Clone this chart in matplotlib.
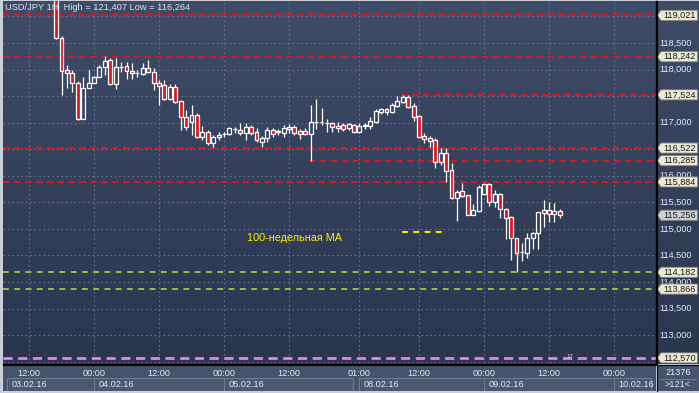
import matplotlib
matplotlib.use("Agg")
import matplotlib.pyplot as plt
import numpy as np
from matplotlib.patches import Rectangle, Polygon
from matplotlib.lines import Line2D

plt.rcParams['font.family'] = ['Liberation Sans', 'DejaVu Sans']

# ---------------- data ----------------
title_text = "USD/JPY 1H  High = 121,407 Low = 116,264"
ma_label = "100-недельная MA"
marker_label = "17"
marker_pos = (99.9, 112.60)

bar_index = list(range(5, 99))  # hourly bar positions (weekend compressed)

opens = [119.600, 118.589, 117.992, 117.930, 117.741, 117.069, 117.658, 117.753, 117.855, 118.043,
         118.180, 117.728, 118.039, 118.067, 117.973, 117.930, 117.917, 118.024, 117.954, 117.741,
         117.700, 117.446, 117.666, 117.408, 117.112, 117.006, 117.144, 116.736, 116.830, 116.611,
         116.725, 116.787, 116.787, 116.872, 116.862, 116.811, 116.924, 116.830, 116.642, 116.706,
         116.862, 116.834, 116.811, 116.875, 116.913, 116.849, 116.849, 116.781, 117.003, 117.009,
         116.988, 116.988, 116.894, 116.956, 116.894, 116.956, 116.819, 116.943, 116.943, 117.018,
         117.207, 117.257, 117.207, 117.320, 117.395, 117.483, 117.320, 117.125, 116.749, 116.706,
         116.674, 116.259, 116.434, 116.109, 115.576, 115.713, 115.638, 115.267, 115.337, 115.651,
         115.845, 115.512, 115.657, 115.369, 115.223, 114.823, 114.559, 114.551, 114.823, 114.917,
         115.292, 115.355, 115.274, 115.336]
highs = [119.700, 118.632, 118.086, 118.001, 117.785, 117.866, 117.992, 117.888, 118.077, 118.256,
         118.212, 118.223, 118.137, 118.133, 118.129, 117.992, 118.129, 118.180, 118.024, 117.804,
         117.804, 117.728, 117.728, 117.427, 117.239, 117.333, 117.176, 116.937, 116.862, 116.768,
         116.830, 116.830, 116.924, 116.924, 116.988, 116.988, 116.956, 116.894, 116.749, 116.924,
         116.894, 116.875, 116.956, 116.969, 116.956, 116.875, 116.894, 117.333, 117.446, 117.276,
         117.069, 117.013, 117.007, 116.988, 117.000, 116.975, 116.988, 116.988, 117.112, 117.257,
         117.282, 117.282, 117.365, 117.502, 117.524, 117.521, 117.365, 117.144, 116.800, 116.749,
         116.706, 116.517, 116.517, 116.246, 115.732, 115.858, 115.645, 115.468, 115.826, 115.864,
         115.858, 115.732, 115.670, 115.388, 115.242, 114.834, 114.740, 114.928, 114.947, 115.323,
         115.544, 115.512, 115.481, 115.374]
lows = [118.580, 117.521, 117.653, 117.577, 117.050, 117.060, 117.653, 117.747, 117.851, 117.898,
        117.709, 117.634, 117.960, 117.822, 117.822, 117.854, 117.898, 117.930, 117.615, 117.333,
        117.427, 117.436, 117.370, 116.862, 116.862, 116.768, 116.706, 116.674, 116.579, 116.547,
        116.674, 116.736, 116.768, 116.811, 116.768, 116.674, 116.768, 116.642, 116.547, 116.642,
        116.736, 116.768, 116.736, 116.811, 116.768, 116.687, 116.768, 116.285, 116.881, 116.956,
        116.830, 116.830, 116.830, 116.849, 116.862, 116.800, 116.800, 116.875, 116.881, 116.988,
        117.163, 117.150, 117.176, 117.301, 117.365, 117.271, 117.037, 116.706, 116.608, 116.547,
        116.146, 116.203, 115.888, 115.557, 115.154, 115.606, 115.261, 115.261, 115.323, 115.638,
        115.431, 115.418, 115.210, 114.815, 114.414, 114.182, 114.395, 114.457, 114.626, 114.626,
        115.041, 115.135, 115.135, 115.210]
closes = [118.594, 117.979, 117.930, 117.741, 117.069, 117.658, 117.741, 117.855, 118.043, 118.167,
          117.728, 118.043, 118.052, 117.964, 117.935, 117.941, 118.024, 117.945, 117.741, 117.696,
          117.446, 117.666, 117.395, 117.107, 116.924, 117.144, 116.736, 116.830, 116.611, 116.736,
          116.768, 116.793, 116.894, 116.881, 116.811, 116.924, 116.811, 116.674, 116.706, 116.862,
          116.787, 116.828, 116.894, 116.913, 116.800, 116.787, 116.787, 117.007, 117.009, 117.003,
          116.998, 116.909, 116.943, 116.881, 116.975, 116.819, 116.937, 116.950, 117.031, 117.220,
          117.257, 117.207, 117.333, 117.408, 117.478, 117.301, 117.112, 116.736, 116.692, 116.655,
          116.265, 116.429, 116.095, 115.576, 115.700, 115.625, 115.267, 115.356, 115.789, 115.845,
          115.512, 115.657, 115.365, 115.210, 114.819, 114.551, 114.570, 114.823, 114.922, 115.312,
          115.355, 115.274, 115.336, 115.256]

# horizontal levels: (price, start bar index or None for full width, kind)
level_prices = [119.021, 118.242, 117.524, 116.522, 116.285, 115.884, 114.182, 113.866, 112.570]
level_starts = [None, None, 68.6, None, 51.7, None, None, None, None]
level_kinds = ['red', 'red', 'red', 'red', 'red', 'red', 'green', 'green', 'pink']
last_price = 115.256
ma_price = 114.946
ma_span = (68.8, 76.8)

tick_prices = [118.5, 118.0, 117.0, 116.0, 115.5, 115.0, 114.5, 114.0, 113.5, 113.0]
grid_prices = [119.0, 118.5, 118.0, 117.5, 117.0, 116.5, 116.0, 115.5, 115.0, 114.5, 114.0, 113.5, 113.0, 112.5]

time_pos = [0, 12, 24, 36, 48, 61, 72, 84, 96, 108]
time_labels = ["12:00", "00:00", "12:00", "00:00", "12:00", "01:00", "12:00", "00:00", "12:00", "00:00"]
date_labels = ["03.02.16", "04.02.16", "05.02.16", "08.02.16", "09.02.16", "10.02.16"]
date_starts = [-4.05, 12, 36, 61, 84, 108]
date_ends = [12, 36, 59.9, 84, 108, 114.8]
counter_top = "21376"
counter_bottom = ">121<"

# ---------------- layout ----------------
W, H = 699, 393
XLIM = (-4.80, 115.75)
YLIM = (112.455, 119.291)

fig = plt.figure(figsize=(W / 100, H / 100), dpi=100)
fig.patch.set_facecolor('#C9CED8')


def rect(x0, y0, x1, y1):
    return [x0 / W, 1 - y1 / H, (x1 - x0) / W, (y1 - y0) / H]


# gradient background for plot + price scale
bg = fig.add_axes(rect(3, 1, 699, 364))
grad = np.linspace(0, 1, 256)[:, None]
top_c = np.array([0x3F, 0x4C, 0x68]) / 255
bot_c = np.array([0x2A, 0x35, 0x4E]) / 255
img = top_c[None, None, :] * (1 - grad[:, :, None]) + bot_c[None, None, :] * grad[:, :, None]
bg.imshow(img, aspect='auto', extent=(0, 1, 0, 1))
bg.set_axis_off()

ax = fig.add_axes(rect(3, 1, 656, 364))
ax.set_facecolor('none')
ax.set_xlim(*XLIM)
ax.set_ylim(*YLIM)
for s in ['left', 'top']:
    ax.spines[s].set_visible(False)
for s in ['right', 'bottom']:
    ax.spines[s].set_color('black')
    ax.spines[s].set_linewidth(1.0)
ax.set_xticks([])
ax.set_yticks([])

grid_col = '#66728D'
for gp in grid_prices:
    ax.axhline(gp, color=grid_col, lw=0.8, linestyle=(0, (1.5, 2.5)), zorder=1)
for tp in time_pos:
    ax.axvline(tp, color=grid_col, lw=0.8, linestyle=(0, (1.5, 2.5)), zorder=1)

# levels
style = {
    'red': dict(color='#E3141C', lw=1.4, linestyle=(0, (3.3, 2.3))),
    'green': dict(color='#8CC63E', lw=1.4, linestyle=(0, (3.0, 2.8))),
    'pink': dict(color='#F07FE3', lw=2.0, linestyle=(0, (3.3, 2.0))),
}
for p, st, k in zip(level_prices, level_starts, level_kinds):
    x0 = XLIM[0] if st is None else st
    ax.plot([x0, XLIM[1]], [p, p], zorder=2, solid_capstyle='butt', dash_capstyle='butt', **style[k])

ax.plot(list(ma_span), [ma_price, ma_price], color='#FFF200', lw=1.4,
        linestyle=(0, (3.0, 2.8)), zorder=2)
ax.text(40.3, ma_price - 0.115, ma_label, color='#FFF200', fontsize=7.8,
        ha='left', va='center', zorder=3)

# small marker on the bottom level
ax.text(marker_pos[0], marker_pos[1], marker_label, color='#E8E0F0', fontsize=4.5,
        ha='center', va='center', zorder=3)

# candles
bw = 0.72
for xi, o, h, l, c in zip(bar_index, opens, highs, lows, closes):
    top = max(o, c)
    bot = min(o, c)
    ax.plot([xi, xi], [top, h], color='white', lw=0.9, zorder=4, solid_capstyle='butt')
    ax.plot([xi, xi], [l, bot], color='white', lw=0.9, zorder=4, solid_capstyle='butt')
    face = '#E3141C' if c < o else 'none'
    ax.add_patch(Rectangle((xi - bw / 2, bot), bw, max(top - bot, 0.0005),
                           facecolor=face, edgecolor='white', lw=0.9, zorder=5))

# title
ax.text(0.003, 0.995, title_text, transform=ax.transAxes, color='#DDE3EE',
        fontsize=6.7, ha='left', va='top', zorder=6)

# ---------------- price scale ----------------
rp = fig.add_axes(rect(657, 1, 699, 364))
rp.set_facecolor('none')
rp.set_xlim(0, 42)
rp.set_ylim(*YLIM)
rp.set_axis_off()
for tp in tick_prices:
    rp.text(2.5, tp, f"{tp:.3f}".replace(".", ","),
            color='#E6ECF5', fontsize=6.6, ha='left', va='center', zorder=2, clip_on=True)

tag_h = 0.095


def tag(price, face):
    pts = [(0.3, price), (4.0, price + tag_h), (40.5, price + tag_h),
           (40.5, price - tag_h), (4.0, price - tag_h)]
    rp.add_patch(Polygon(pts, closed=True, facecolor=face, edgecolor='#8A8878', lw=0.6, zorder=3))
    rp.text(22.5, price, f"{price:.3f}".replace(".", ","), color='#1A1A1A', fontsize=6.6,
            ha='center', va='center', zorder=4)


for p in level_prices:
    tag(p, '#ECE9D5')
tag(last_price, '#CDD0D6')

# ---------------- time scale ----------------
bp = fig.add_axes(rect(3, 365, 656, 391))
bp.set_facecolor('#46536D')
bp.set_xlim(*XLIM)
bp.set_ylim(26, 0)
bp.set_xticks([])
bp.set_yticks([])
for s in bp.spines.values():
    s.set_visible(False)
for tp, tl in zip(time_pos, time_labels):
    bp.text(tp, 8, tl, color='#E6ECF5', fontsize=6.6, ha='center', va='center')
for ds, de, dl in zip(date_starts, date_ends, date_labels):
    bp.add_patch(Rectangle((ds, 13.3), de - ds, 12.7, facecolor='#4B5872',
                           edgecolor='#6F7B94', lw=0.8))
    bp.text(ds + 0.8, 19.2, dl, color='#E6ECF5', fontsize=6.6, ha='left', va='center')

cb = fig.add_axes(rect(657, 365, 699, 391))
cb.set_facecolor('#46536D')
cb.set_xlim(0, 42)
cb.set_ylim(26, 0)
cb.set_xticks([])
cb.set_yticks([])
for s in cb.spines.values():
    s.set_visible(False)
cb.text(21, 7.5, counter_top, color='#E6ECF5', fontsize=6.6, ha='center', va='center')
cb.plot([3, 39], [13.5, 13.5], color='#6F7B94', lw=0.8)
cb.text(21, 19.5, counter_bottom, color='#E6ECF5', fontsize=6.6, ha='center', va='center')

# separator lines
fig.add_artist(Line2D([3 / W, 1], [1 - 364.5 / H, 1 - 364.5 / H], color='black', lw=0.8))
fig.add_artist(Line2D([656.5 / W, 656.5 / W], [1 - 391 / H, 1 - 1 / H], color='black', lw=0.8))

fig.savefig('out.png', dpi=100, facecolor=fig.get_facecolor())
